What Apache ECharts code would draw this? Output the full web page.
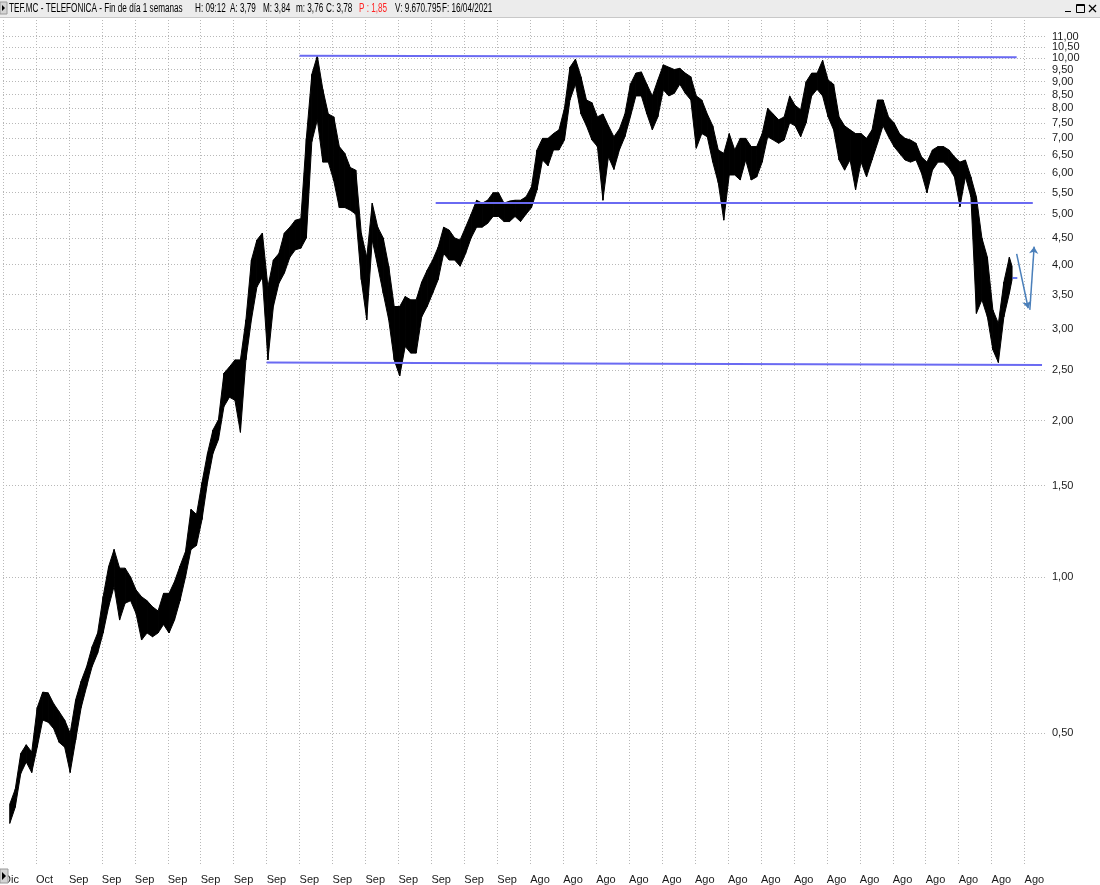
<!DOCTYPE html>
<html><head><meta charset="utf-8">
<script src="https://cdn.jsdelivr.net/npm/echarts@6.0.0/dist/echarts.min.js"></script>
<style>html,body{margin:0;padding:0;background:#fff}#c{width:1100px;height:885px}</style>
</head><body><div id="c"></div>
<script>
// ---- tick labels ----
const xLabels = ['Dic','Oct',
  'Sep','Sep','Sep','Sep','Sep','Sep','Sep','Sep','Sep','Sep','Sep','Sep','Sep','Sep',
  'Ago','Ago','Ago','Ago','Ago','Ago','Ago','Ago','Ago','Ago','Ago','Ago','Ago','Ago','Ago','Ago'];
const yTicks = [0.5,1,1.5,2,2.5,3,3.5,4,4.5,5,5.5,6,6.5,7,7.5,8,8.5,9,9.5,10,10.5,11];
const firstGridDate = 1990.67;   // date (decimal year) of the first vertical grid line ('Dic')
const xMaxDate = 2022.29;        // right end of the time axis
const yMinPrice = 0.2774, yMaxPrice = 11.835;

// ---- price data: two-month low/high envelope, starting Nov 1990 ----
const startDate = 1990.875, stepYears = 1/6, endDate = 2021.29;
const lows = [
 0.335,0.36,0.418,0.44,0.42,0.47,0.53,0.525,0.51,0.48,
 0.47,0.42,0.485,0.56,0.615,0.672,0.713,0.78,0.876,0.96,
 0.826,0.89,0.90,0.85,0.756,0.78,0.767,0.78,0.81,0.78,
 0.826,0.90,1.0,1.13,1.15,1.29,1.52,1.73,1.84,2.13,
 2.22,2.19,1.90,2.62,3.13,3.62,3.78,2.62,3.32,3.68,
 3.85,4.13,4.27,4.3,4.5,6.9,7.6,6.3,6.3,5.8,
 5.15,5.15,5.09,5.0,3.74,3.13,4.46,3.97,3.52,3.13,
 2.62,2.44,2.78,2.7,2.7,3.17,3.32,3.52,3.74,4.2,
 4.08,4.08,3.97,4.2,4.5,4.72,4.72,4.8,4.95,4.95,
 4.84,4.84,4.95,4.84,5.0,5.15,5.57,6.36,6.2,6.65,
 6.65,6.95,8.3,8.9,7.8,7.4,6.95,6.75,5.32,6.45,
 6.1,6.65,7.05,7.7,8.45,8.45,7.8,7.27,7.7,8.68,
 8.45,8.55,8.9,8.55,8.3,6.7,7.15,7.05,6.3,5.75,
 4.87,5.95,5.95,5.82,6.36,5.82,5.9,6.3,7.05,6.95,
 6.85,6.95,7.5,7.4,7.05,7.5,8.45,8.7,8.45,7.7,
 7.27,6.36,6.08,6.36,5.57,6.3,5.9,6.36,6.85,7.4,
 7.05,6.75,6.55,6.36,6.3,6.36,6.0,5.5,6.08,6.3,
 6.3,6.15,5.9,5.17,5.9,5.4,3.22,3.42,3.17,2.74,
 2.59,3.17,3.52,3.74];
const highs = [
 0.365,0.39,0.457,0.475,0.46,0.56,0.60,0.598,0.57,0.55,
 0.53,0.50,0.58,0.63,0.672,0.734,0.78,0.916,1.047,1.13,
 1.04,1.04,1.0,0.944,0.916,0.90,0.876,0.86,0.93,0.93,
 0.98,1.05,1.12,1.35,1.32,1.52,1.73,1.92,2.01,2.47,
 2.54,2.62,2.62,3.13,4.08,4.46,4.6,3.62,4.08,4.2,
 4.6,4.72,4.87,4.9,7.0,9.3,10.1,8.7,7.8,7.7,
 6.75,6.55,6.15,6.08,4.6,4.13,5.25,4.72,4.5,3.97,
 3.32,3.32,3.47,3.42,3.42,3.7,3.9,4.08,4.32,4.72,
 4.66,4.5,4.46,4.72,5.0,5.32,5.25,5.32,5.5,5.5,
 5.25,5.3,5.32,5.32,5.4,5.65,6.65,7.0,7.0,7.15,
 7.27,8.0,9.6,9.95,9.2,8.3,8.2,7.7,7.8,7.4,
 7.05,7.3,7.8,8.9,9.35,9.4,8.9,8.45,9.07,9.7,
 9.6,9.5,9.55,9.35,9.2,8.45,8.3,7.8,7.4,6.65,
 6.55,7.15,6.65,7.0,7.0,6.75,6.75,7.15,8.0,7.8,
 7.6,7.7,8.45,8.1,7.95,9.0,9.35,9.35,9.9,9.07,
 8.9,7.7,7.4,7.27,7.15,7.15,7.0,7.27,8.3,8.3,
 7.7,7.5,7.15,7.0,6.95,6.85,6.45,6.3,6.65,6.75,
 6.75,6.65,6.45,6.3,6.36,5.9,5.4,4.5,4.13,3.27,
 3.08,3.7,4.13,3.97];
const lastClose = 3.78;

// ---- drawn annotations: [date, price] end points ----
const levelLines = [
  [[1999.67, 10.10], [2021.43, 10.03]],
  [[2003.80, 5.262], [2021.92, 5.262]],
  [[1998.67, 2.590], [2022.20, 2.562]]
];
const arrowLines = [
  [[2021.43, 4.193], [2021.78, 3.294]],
  [[2021.83, 3.27], [2021.96, 4.33]]
];
const closeMark = [[2021.30, lastClose], [2021.45, lastClose]];

// ---- header texts ----
const headerParts = [
  ['TEF.MC - TELEFONICA - Fin de día 1 semanas', '#000', 9],
  ['H: 09:12', '#000', 195],
  ['A: 3,79', '#000', 230],
  ['M: 3,84', '#000', 263],
  ['m: 3,76', '#000', 296],
  ['C: 3,78', '#000', 326],
  ['P : 1,85', '#ff2424', 359],
  ['V: 9.670.795', '#000', 395],
  ['F: 16/04/2021', '#000', 442]
];

// ---- build ----
const L = Math.log10;
const U = d => d - firstGridDate;
const dateAt = i => Math.min(startDate + i * stepYears, endDate);
const bandData = lows.map((lo, i) => [U(dateAt(i)), L(lo), L(highs[i])]);
const toCoords = seg => ({ coords: seg.map(([d, p]) => [U(d), L(p)]) });

const FONT = '"Liberation Sans",Arial,sans-serif';
const chart = echarts.init(document.getElementById('c'), null, { renderer: 'canvas', width: 1100, height: 885 });

const xTickVals = xLabels.map((_, i) => i);
const yTickVals = yTicks.map(L);
// labels are split over two coincident axes (alternating ticks) so that close labels near 10-11 all show
const yLabelsA = yTickVals.filter((_, i) => i % 2 === 0);
const yLabelsB = yTickVals.filter((_, i) => i % 2 === 1);
const grid = { color: '#b8b8b8', width: 1, type: [1, 2] };
const yFmt = v => Math.pow(10, v).toFixed(2).replace('.', ',');
const yLabelStyle = { margin: 7, fontSize: 11, color: '#1a1a1a', fontFamily: FONT,
                      showMinLabel: true, showMaxLabel: true, hideOverlap: false, formatter: yFmt };

const headerGraphics = headerParts.map(([t, c, x]) => ({
  type: 'text', x: x, y: 3, scaleX: 0.68, z: 12,
  style: { text: t, font: '12px ' + FONT, fill: c }
}));

chart.setOption({
  animation: false,
  backgroundColor: '#ffffff',
  grid: { left: -3.4, right: 55, top: 20, bottom: 19 },
  xAxis: {
    type: 'value', min: 0, max: U(xMaxDate),
    axisLine: { show: false },
    axisTick: { show: false, customValues: xTickVals },
    axisLabel: {
      customValues: xTickVals, showMinLabel: true, showMaxLabel: true, hideOverlap: false,
      formatter: v => xLabels[Math.round(v)] || '',
      align: 'left', margin: 8, fontSize: 11, color: '#1a1a1a', fontFamily: FONT
    },
    splitLine: { show: true, lineStyle: grid }
  },
  yAxis: [
    {
      type: 'value', position: 'right', min: L(yMinPrice), max: L(yMaxPrice),
      axisLine: { show: false },
      axisTick: { show: false, customValues: yTickVals },
      axisLabel: Object.assign({ customValues: yLabelsA }, yLabelStyle),
      splitLine: { show: true, lineStyle: grid }
    },
    {
      type: 'value', position: 'right', min: L(yMinPrice), max: L(yMaxPrice),
      axisLine: { show: false },
      axisTick: { show: false, customValues: yLabelsB },
      axisLabel: Object.assign({ customValues: yLabelsB }, yLabelStyle),
      splitLine: { show: false }
    }
  ],
  series: [
    {
      type: 'custom', name: 'TEF.MC', data: bandData, encode: { x: 0, y: [1, 2] }, clip: true, z: 2,
      renderItem: (params, api) => {
        const i = params.dataIndex;
        if (i + 1 >= bandData.length) return null;
        const n = bandData[i + 1];
        const aH = api.coord([api.value(0), api.value(2)]);
        const aL = api.coord([api.value(0), api.value(1)]);
        const bH = api.coord([n[0], n[2]]);
        const bL = api.coord([n[0], n[1]]);
        return { type: 'polygon', shape: { points: [aH, bH, bL, aL] },
                 style: { fill: '#000', stroke: '#000', lineWidth: 1 } };
      }
    },
    {
      type: 'lines', coordinateSystem: 'cartesian2d', z: 3, symbol: ['none', 'none'],
      data: levelLines.map(toCoords),
      lineStyle: { color: '#6a6af2', width: 2, opacity: 1 }
    },
    {
      type: 'lines', coordinateSystem: 'cartesian2d', z: 3, symbol: ['none', 'arrow'], symbolSize: 7,
      data: arrowLines.map(toCoords),
      lineStyle: { color: '#4a7fba', width: 1.5, opacity: 1 }
    },
    {
      type: 'lines', coordinateSystem: 'cartesian2d', z: 3, symbol: ['none', 'none'],
      data: [toCoords(closeMark)],
      lineStyle: { color: '#3a50f0', width: 1.5, opacity: 1 }
    }
  ],
  graphic: [
    { type: 'rect', shape: { x: 0, y: 0, width: 1100, height: 17 }, style: { fill: '#ececec' }, z: 10 },
    { type: 'line', shape: { x1: 0, y1: 17.5, x2: 1100, y2: 17.5 }, style: { stroke: '#c8c8c8', lineWidth: 1 }, z: 10 },
    { type: 'rect', shape: { x: 0, y: 2, width: 7, height: 12 }, style: { fill: '#d4d4d4', stroke: '#9a9a9a', lineWidth: 1 }, z: 11 },
    { type: 'polygon', shape: { points: [[2, 5], [5, 8], [2, 11]] }, style: { fill: '#000' }, z: 12 },
    ...headerGraphics,
    // window buttons
    { type: 'line', shape: { x1: 1065, y1: 11.5, x2: 1071, y2: 11.5 }, style: { stroke: '#000', lineWidth: 1 }, z: 12 },
    { type: 'rect', shape: { x: 1076.5, y: 4.5, width: 8, height: 8 }, style: { fill: 'none', stroke: '#000', lineWidth: 1 }, z: 12 },
    { type: 'line', shape: { x1: 1076.5, y1: 5.5, x2: 1084.5, y2: 5.5 }, style: { stroke: '#000', lineWidth: 1 }, z: 12 },
    { type: 'line', shape: { x1: 1089, y1: 5, x2: 1096, y2: 12 }, style: { stroke: '#000', lineWidth: 1.3 }, z: 12 },
    { type: 'line', shape: { x1: 1096, y1: 5, x2: 1089, y2: 12 }, style: { stroke: '#000', lineWidth: 1.3 }, z: 12 },
    // bottom-left scroll button
    { type: 'rect', shape: { x: 0, y: 869, width: 8, height: 14 }, style: { fill: '#d4d4d4', stroke: '#9a9a9a', lineWidth: 1 }, z: 12 },
    { type: 'polygon', shape: { points: [[2, 872], [6, 876], [2, 880]] }, style: { fill: '#000' }, z: 13 }
  ]
});
</script>
</body></html>
